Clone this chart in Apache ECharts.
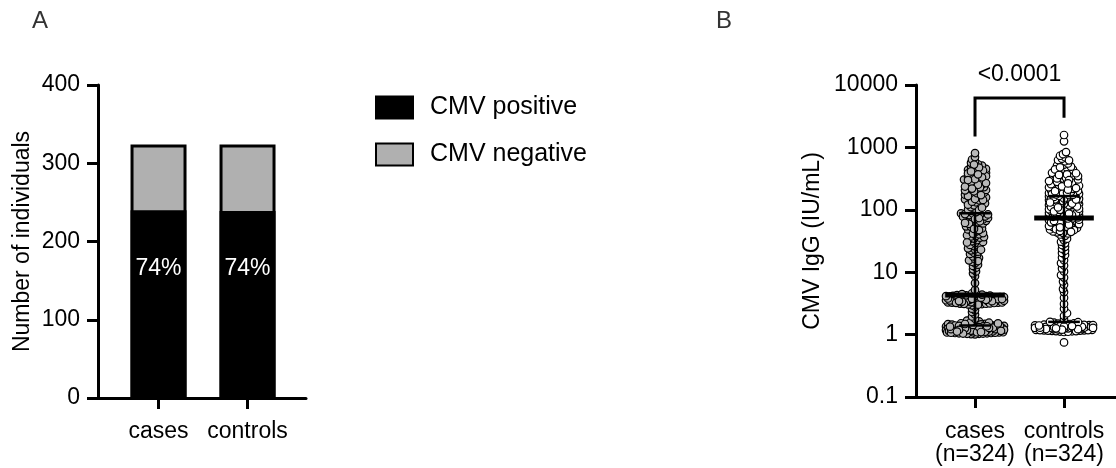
<!DOCTYPE html>
<html>
<head>
<meta charset="utf-8">
<script src="https://cdn.jsdelivr.net/npm/echarts@6/dist/echarts.min.js"></script>
<style>
  html, body { margin: 0; padding: 0; background: #fff; }
  #chart { width: 1116px; height: 468px; }
</style>
</head>
<body>
<div id="chart"></div>
<script>
// ---- data ----
const groups = ['cases', 'controls'];
const groupN = [324, 324];

// panel A
const cmvPositive = [240, 239];
const cmvNegative = [84, 85];

// panel B, CMV IgG (IU/mL), one value per individual
const casesIgG = [
  1.03,1.21,1.08,1.35,1.12,1.01,1.27,1.44,1.16,1.05,
  1.32,1.19,1.09,1.52,1.24,1.06,1.38,1.14,1.29,1.02,
  1.47,1.11,1.23,1.36,1.07,1.18,1.41,1.26,1.13,1.58,
  1.04,1.31,1.22,1.09,1.45,1.17,1.34,1.10,1.28,1.63,
  1.15,1.39,1.06,1.25,1.49,1.12,1.20,1.33,1.08,1.42,
  1.19,1.55,1.03,1.30,1.14,1.37,1.23,1.11,1.46,1.27,
  1.05,1.35,1.16,1.68,1.21,1.40,1.09,1.29,1.13,1.51,
  1.24,1.07,1.32,1.18,1.43,1.10,1.26,1.38,1.15,1.60,
  1.22,1.04,1.34,1.19,1.48,1.12,1.28,1.36,
  1.80,1.95,2.10,2.30,2.45,2.60,2.80,2.95,
  3.05,3.62,3.28,3.91,3.45,3.14,3.77,4.02,3.33,3.58,
  3.19,3.86,3.41,4.11,3.67,3.24,3.52,3.95,3.09,3.73,
  4.18,3.36,3.64,3.48,3.82,3.12,4.06,3.55,3.27,3.69,
  3.98,3.39,3.16,3.80,3.60,4.22,3.31,3.50,3.88,3.21,
  3.70,4.08,3.43,3.26,3.94,3.57,3.35,4.15,3.66,3.02,
  3.84,3.47,4.26,3.74,3.11,3.53,4.00,3.38,3.79,4.29,
  3.23,3.61,4.13,3.44,3.90,3.72,4.38,4.45,4.52,4.60,
  5.2,6.7,8.6,9.6,
  10.3,11.1,11.8,12.6,13.2,13.9,14.7,15.5,16.2,17.0,
  17.9,18.8,19.6,20.5,21.3,22.4,23.2,24.1,25.3,26.2,
  27.4,28.3,29.5,30.6,31.4,32.7,33.5,34.6,35.8,36.5,
  37.4,38.3,39.1,15.1,22.9,29.9,
  40.6,42.3,44.7,46.1,48.5,50.2,52.6,54.3,56.8,58.1,
  60.4,62.7,64.2,66.5,68.3,70.1,72.6,74.2,76.5,78.3,
  80.1,82.4,84.2,86.3,87.5,41.5,47.3,53.4,59.5,65.6,
  71.2,77.4,83.3,49.4,61.6,73.8,85.4,
  92,96,101,105,110,114,118,123,127,132,
  137,142,147,152,158,163,169,175,181,188,
  194,201,208,215,223,231,239,247,256,265,
  274,284,294,305,316,327,339,351,364,377,
  391,405,420,436,452,470,490,512,537,565,
  598,640,700,810,99,108,121,135,149,166,
  185,205,228,252,279,310,345,383,426,475,
  530,144,172,198,236,268,300,332,370,412,
  219
];
const controlsIgG = [
  0.75,
  1.12,1.31,1.22,1.40,1.17,1.28,1.35,1.15,1.25,1.44,
  1.19,1.33,1.27,1.10,1.38,1.23,1.30,1.48,1.14,1.26,
  1.36,1.21,1.29,1.42,1.16,1.32,1.24,1.52,1.18,1.34,
  1.27,1.39,1.13,1.30,1.23,1.46,1.20,1.35,1.28,1.11,
  1.41,1.25,1.33,1.17,1.37,1.29,1.22,1.55,1.31,1.19,
  1.26,1.43,1.34,1.14,1.28,1.38,1.21,1.32,1.24,1.50,
  1.30,1.16,1.36,1.27,1.45,1.23,1.33,1.18,1.29,1.40,
  1.25,1.58,1.35,1.20,1.31,1.26,1.42,1.22,1.37,1.28,
  1.60,
  1.75,2.0,2.2,2.6,3.1,3.9,4.8,5.4,6.3,7.1,
  8.2,9.0,10.3,11.5,12.8,14.0,15.6,17.2,18.9,20.4,
  22.1,23.8,25.5,27.3,29.0,30.8,32.6,34.5,36.4,38.3,
  40.2,41.8,43.5,45.1,46.6,48.3,49.7,51.2,52.8,54.1,
  55.6,56.9,58.3,59.6,60.8,62.1,63.3,64.5,65.6,66.7,
  67.8,68.8,69.7,70.6,71.4,72.2,72.9,73.5,74.1,74.6,
  42.7,47.4,50.5,53.6,57.7,61.4,64.9,68.2,71.0,73.2,
  44.3,49.0,55.0,59.1,63.0,66.3,69.3,72.6,45.9,52.3,
  75.5,76.8,78.2,79.7,81.3,82.9,84.6,86.2,88.0,89.8,
  91.6,93.5,95.4,97.4,99.5,101,103,105,107,110,
  112,114,117,119,122,124,127,130,133,136,
  139,142,145,148,151,154,157,160,163,165,
  77.3,80.5,85.0,90.7,96.3,102,108,115,121,128,
  135,143,150,158,164,78.9,83.7,87.4,92.5,98.6,
  104,111,118,125,132,140,147,155,162,82.1,
  94.1,100,113,126,138,152,161,86.9,109,131,
  146,
  168,172,176,181,186,191,196,202,208,214,
  220,226,233,240,247,254,262,270,278,287,
  296,305,315,325,336,347,358,370,383,396,
  410,425,440,456,473,491,510,530,552,575,
  600,628,660,695,735,780,840,1250,1580,174,
  184,194,205,217,229,243,257,272,289,307,
  326,347,369,392,417,444,178,199,223,250,
  281,318,362,189,237,298,385,210,265,480,
  620
];

// median with interquartile range
const igQ1 = [1.4, 1.6];
const igMedian = [4.3, 74];
const igQ3 = [88, 166];

const igTickLabels = ['0.1', '1', '10', '100', '1000', '10000'];
const pLabel = '<0.0001';
const bracketLevels = [1500, 6200, 3000]; // left foot, bar, right foot

// ---- chart ----
const FONT = '"Liberation Sans", Arial, Helvetica, sans-serif';
const chart = echarts.init(document.getElementById('chart'));

const axisLine = { show: true, onZero: false, lineStyle: { color: '#000', width: 3 } };
const axisTick = { show: true, length: 11, lineStyle: { color: '#000', width: 3 } };
const txt = { color: '#000', fontSize: 23, fontFamily: FONT };

const option = {
  animation: false,
  graphic: [
    { type: 'text', left: 32, top: 9, style: { text: 'A', fontSize: 24, fontFamily: FONT, fill: '#333' } },
    { type: 'text', left: 716, top: 9, style: { text: 'B', fontSize: 24, fontFamily: FONT, fill: '#333' } }
  ],
  legend: {
    left: 375, top: 95, orient: 'vertical', padding: 0,
    itemWidth: 37, itemHeight: 22, itemGap: 22, icon: 'rect',
    textStyle: { ...txt, fontSize: 25, lineHeight: 22, padding: [0, 0, 0, 12] },
    data: ['CMV positive', 'CMV negative']
  },
  grid: [
    { left: 98, top: 85, width: 208, height: 313, outerBoundsMode: 'none' },
    { left: 916, top: 85, width: 200, height: 312, outerBoundsMode: 'none' }
  ],
  xAxis: [
    {
      gridIndex: 0, type: 'value', min: -0.68, max: 1.657,
      splitLine: { show: false }, axisLine,
      axisTick: { ...axisTick, customValues: [0, 1] },
      axisLabel: { ...txt, lineHeight: 23, margin: 22, customValues: [0, 1],
        formatter: v => groups[Math.round(v)] }
    },
    {
      gridIndex: 1, type: 'value', min: -0.663, max: 1.584,
      splitLine: { show: false }, axisLine,
      axisTick: { ...axisTick, customValues: [0, 1] },
      axisLabel: { ...txt, lineHeight: 23, margin: 23, customValues: [0, 1],
        formatter: v => groups[Math.round(v)] + '\n(n=' + groupN[Math.round(v)] + ')' }
    }
  ],
  yAxis: [
    {
      gridIndex: 0, type: 'value', min: 0, max: 400, interval: 100,
      name: 'Number of individuals', nameLocation: 'middle', nameGap: 64, nameTextStyle: txt,
      splitLine: { show: false }, axisLine, axisTick,
      axisLabel: { ...txt, margin: 18 }
    },
    {
      gridIndex: 1, type: 'log', logBase: 10, min: 0.1, max: 10000,
      name: 'CMV IgG (IU/mL)', nameLocation: 'middle', nameGap: 92, nameTextStyle: txt,
      splitLine: { show: false }, minorTick: { show: false }, axisLine, axisTick,
      axisLabel: { ...txt, margin: 18,
        formatter: v => igTickLabels[Math.round(Math.log10(v)) + 1] }
    }
  ],
  series: [
    {
      name: 'CMV negative', type: 'bar', xAxisIndex: 0, yAxisIndex: 0,
      barWidth: 56, barGap: '-100%',
      itemStyle: { color: '#b0b0b0', borderColor: '#000', borderWidth: 3 },
      data: groups.map((g, i) => [i, cmvPositive[i] + cmvNegative[i]])
    },
    {
      name: 'CMV positive', type: 'bar', xAxisIndex: 0, yAxisIndex: 0,
      barWidth: 56, barGap: '-100%',
      itemStyle: { color: '#000', borderColor: '#000', borderWidth: 3 },
      label: {
        show: true, position: ['50%', '31%'], align: 'center', verticalAlign: 'middle',
        ...txt, color: '#fff',
        formatter: p => Math.round(cmvPositive[p.dataIndex] / (cmvPositive[p.dataIndex] + cmvNegative[p.dataIndex]) * 100) + '%'
      },
      data: groups.map((g, i) => [i, cmvPositive[i]])
    },
    {
      id: 'casesPts', type: 'scatter', xAxisIndex: 1, yAxisIndex: 1, z: 2,
      symbolSize: 7.5, itemStyle: { color: '#b8b8b8', borderColor: '#000', borderWidth: 1.2, opacity: 1 },
      data: []
    },
    {
      id: 'controlsPts', type: 'scatter', xAxisIndex: 1, yAxisIndex: 1, z: 2,
      symbolSize: 7.5, itemStyle: { color: '#fff', borderColor: '#000', borderWidth: 1.2, opacity: 1 },
      data: []
    },
    {
      // median line with interquartile range
      type: 'custom', xAxisIndex: 1, yAxisIndex: 1, z: 3, silent: true,
      encode: { x: 0, y: [1, 2, 3] },
      data: groups.map((g, i) => [i, igQ1[i], igMedian[i], igQ3[i]]),
      renderItem: (params, api) => {
        const x = api.value(0);
        const seg = (x0, x1, y0, y1, w) => {
          const a = api.coord([x0, y0]), b = api.coord([x1, y1]);
          return { type: 'line', shape: { x1: a[0], y1: a[1], x2: b[0], y2: b[1] },
                   style: { stroke: '#000', lineWidth: w } };
        };
        return { type: 'group', children: [
          seg(x, x, api.value(1), api.value(3), 2.5),
          seg(x - 0.178, x + 0.178, api.value(1), api.value(1), 2.5),
          seg(x - 0.178, x + 0.178, api.value(3), api.value(3), 2.5),
          seg(x - 0.335, x + 0.335, api.value(2), api.value(2), 5)
        ] };
      }
    },
    {
      // significance bracket
      type: 'custom', xAxisIndex: 1, yAxisIndex: 1, z: 4, silent: true,
      encode: { x: [0, 1], y: [2, 3, 4] },
      data: [[0, 1, bracketLevels[0], bracketLevels[1], bracketLevels[2]]],
      renderItem: (params, api) => {
        const a = api.coord([api.value(0), api.value(2)]);
        const b = api.coord([api.value(0), api.value(3)]);
        const c = api.coord([api.value(1), api.value(3)]);
        const d = api.coord([api.value(1), api.value(4)]);
        return { type: 'group', children: [
          { type: 'polyline', shape: { points: [a, b, c, d] },
            style: { stroke: '#000', lineWidth: 3, fill: 'none' } },
          { type: 'text', x: (b[0] + c[0]) / 2, y: b[1] - 23,
            style: { text: pLabel, fill: '#000', fontSize: 23, fontFamily: FONT,
                     align: 'center', verticalAlign: 'middle' } }
        ] };
      }
    }
  ]
};

chart.setOption(option);

// beeswarm: spread points sideways so they do not pile up (pixel space of grid B)
const unitPx = chart.convertToPixel({ xAxisIndex: 1 }, 1) - chart.convertToPixel({ xAxisIndex: 1 }, 0);
const MIN_GAP = 3.3;
function swarm(values, center) {
  const order = values.map((v, i) => i).sort((a, b) => values[a] - values[b]);
  const placed = [];
  const out = new Array(values.length);
  order.forEach((idx, k) => {
    const y = chart.convertToPixel({ yAxisIndex: 1 }, values[idx]);
    const cap = values[idx] < 5 ? 29 : 15;
    const side = k % 2 ? -1 : 1;
    let bestX = 0, bestD = -1;
    search:
    for (let s = 0; s <= cap; s++) {
      for (const dir of (s === 0 ? [0] : [side, -side])) {
        const x = dir * s;
        let d = Infinity;
        for (const p of placed) {
          const dy = p[1] - y;
          if (Math.abs(dy) < MIN_GAP) {
            const dd = Math.hypot(p[0] - x, dy);
            if (dd < d) d = dd;
          }
        }
        if (d >= MIN_GAP) { bestX = x; break search; }
        if (d > bestD) { bestD = d; bestX = x; }
      }
    }
    placed.push([bestX, y]);
    out[idx] = [center + bestX / unitPx, values[idx]];
  });
  return out;
}

chart.setOption({
  series: [
    { id: 'casesPts', data: swarm(casesIgG, 0) },
    { id: 'controlsPts', data: swarm(controlsIgG, 1) }
  ]
});
</script>
</body>
</html>
